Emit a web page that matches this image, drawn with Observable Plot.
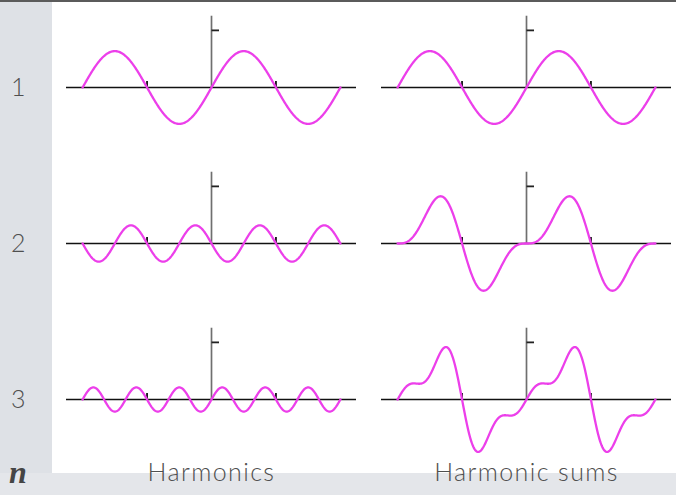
<!DOCTYPE html>
<html>
<head>
<meta charset="utf-8">
<script src="https://cdn.jsdelivr.net/npm/d3@7"></script>
<script src="https://cdn.jsdelivr.net/npm/@observablehq/plot@0.6"></script>
<style>
  html, body { margin: 0; padding: 0; background: #e4e6ea; }
  #slide { position: relative; width: 676px; height: 495px; background: #e4e6ea; overflow: hidden; }
  #topRule { position: absolute; left: 0; top: 0; width: 676px; height: 2px; background: #5b5b5b; }
  #sidebar { position: absolute; left: 0; top: 2px; width: 52px; height: 471px; background: #dee1e6; }
  #sheet { position: absolute; left: 52px; top: 2px; right: 0; height: 471px; background: #ffffff; }
  #nLabel { position: absolute; left: 9px; top: 456px; font: italic bold 32px/32px "Liberation Serif", serif; color: #454545; }
  #chart { position: absolute; left: 0; top: 0; }
  #chart text.label { letter-spacing: 1.4px; }
</style>
</head>
<body>
<div id="slide">
  <div id="topRule"></div>
  <div id="sidebar"></div>
  <div id="sheet"></div>
  <div id="nLabel">n</div>
  <div id="chart"></div>
</div>
<script>
// Fourier terms of a sawtooth: harmonic number and signed amplitude
const columns = ["Harmonics", "Harmonic sums"];
const harmonics = [1, 2, 3];
const amplitudes = [1, -1 / 2, 1 / 3];

// Sampled interval (two full periods) and the drawn axis extents
const xStart = -2 * Math.PI;
const xEnd = 2 * Math.PI;
const xExtent = [-2.25 * Math.PI, 2.25 * Math.PI];
const yExtent = [-1.98, 2.31];
const yAxisTop = 1.96;
const xTicks = [-Math.PI, Math.PI];
const yTicks = [Math.PI / 2];
const samples = 480;

// Each harmonic on the left, running partial sums on the right
const curves = [];
harmonics.forEach((n, i) => {
  for (let k = 0; k <= samples; ++k) {
    const x = xStart + (k / samples) * (xEnd - xStart);
    let sum = 0;
    for (let j = 0; j <= i; ++j) sum += amplitudes[j] * Math.sin(harmonics[j] * x);
    curves.push({column: columns[0], n, x, y: amplitudes[i] * Math.sin(n * x)});
    curves.push({column: columns[1], n, x, y: sum});
  }
});

const rowLabels = harmonics.map((n) => ({column: columns[0], n, label: String(n)}));

// Small tick glyphs drawn at fixed pixel length
const tickUp = {draw(ctx) { ctx.moveTo(0, 0); ctx.lineTo(0, -6.5); }};
const tickRight = {draw(ctx) { ctx.moveTo(0, 0); ctx.lineTo(7.5, 0); }};

const labelFont = {fontFamily: "Lato, 'Open Sans', sans-serif", fontSize: 25, fontWeight: 300, fill: "#4f4f4f"};

const chart = Plot.plot({
  width: 676,
  height: 495,
  marginTop: 2,
  marginBottom: 22.3,
  marginLeft: 65,
  marginRight: 4.3,
  style: {background: "transparent", overflow: "visible"},
  x: {domain: xExtent, axis: null},
  y: {domain: yExtent, axis: null},
  fx: {domain: columns, paddingInner: 0.079, paddingOuter: 0},
  fy: {domain: harmonics, paddingInner: 0, paddingOuter: 0, axis: null},
  marks: [
    Plot.ruleX([0], {y1: 0, y2: yAxisTop, stroke: "#6f6f6f", strokeWidth: 1.7}),
    Plot.dot(yTicks, {x: 0, y: (d) => d, symbol: tickRight, stroke: "#222", fill: "none", strokeWidth: 1.8}),
    Plot.ruleY([0], {stroke: "#111", strokeWidth: 1.4}),
    Plot.dot(xTicks, {x: (d) => d, y: 0, symbol: tickUp, stroke: "#111", fill: "none", strokeWidth: 1.8}),
    Plot.line(curves, {x: "x", y: "y", fx: "column", fy: "n", stroke: "#ec3fea", strokeWidth: 2.3, curve: "linear"}),
    Plot.text(rowLabels, {fx: "column", fy: "n", y: 0, text: "label", frameAnchor: "left", textAnchor: "middle", dx: -47.5, ...labelFont}),
    Plot.axisFx({anchor: "bottom", tickSize: 0, tickPadding: 0, dy: -8, label: null, ...labelFont})
  ]
});

// Widen the spacing of the row and column captions
chart.querySelectorAll("g[aria-label='text'] text, g[aria-label='fx-axis tick label'] text").forEach((t) => t.classList.add("label"));

document.getElementById("chart").append(chart);
</script>
</body>
</html>
